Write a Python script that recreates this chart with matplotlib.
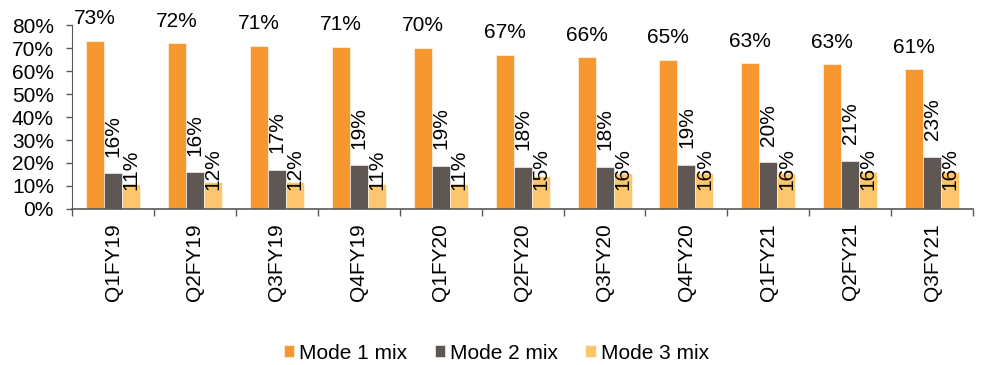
import numpy as np
import matplotlib
matplotlib.use("Agg")
import matplotlib.pyplot as plt

# Donnees
trimestres = ["Q1FY19", "Q2FY19", "Q3FY19", "Q4FY19", "Q1FY20", "Q2FY20",
              "Q3FY20", "Q4FY20", "Q1FY21", "Q2FY21", "Q3FY21"]
mode1 = [73, 72, 71, 71, 70, 67, 66, 65, 63, 63, 61]
mode2 = [16, 16, 17, 19, 19, 18, 18, 19, 20, 21, 23]
mode3 = [11, 12, 12, 11, 11, 15, 16, 16, 16, 16, 16]
# hauteurs des barres
mode1_h = [73.2, 72.0, 71.0, 70.5, 70.2, 67.0, 66.0, 65.0, 63.4, 63.0, 60.8]
mode2_h = [15.5, 16.0, 17.0, 19.0, 18.8, 18.3, 18.2, 19.2, 20.3, 20.8, 22.6]
mode3_h = [10.9, 11.8, 11.8, 10.7, 10.8, 14.5, 15.5, 15.8, 15.8, 16.0, 16.0]

COULEURS = ["#F7972F", "#5E5753", "#FDC66C"]
NOMS = ["Mode 1 mix", "Mode 2 mix", "Mode 3 mix"]

plt.rcParams["font.family"] = ["Liberation Sans", "DejaVu Sans"]

fig = plt.figure(figsize=(9.87, 3.65), dpi=100)
ax = fig.add_axes([0.073, 0.4274, 0.913, 0.5041])

x = np.arange(len(trimestres))
w = 0.22

b1 = ax.bar(x - w, mode1_h, w, color=COULEURS[0], edgecolor="white", linewidth=0.4, label=NOMS[0])
b2 = ax.bar(x, mode2_h, w, color=COULEURS[1], edgecolor="white", linewidth=0.4, label=NOMS[1])
b3 = ax.bar(x + w, mode3_h, w, color=COULEURS[2], edgecolor="white", linewidth=0.4, label=NOMS[2])

# etiquettes
for i in range(len(x)):
    ax.annotate(f"{mode1[i]}%", (x[i] - w, mode1_h[i]), xytext=(0, 9),
                textcoords="offset points", ha="center", va="bottom", fontsize=15)
    ax.annotate(f"{mode2[i]}%", (x[i], mode2_h[i]), xytext=(0, 12),
                textcoords="offset points", ha="center", va="bottom",
                rotation=90, fontsize=15)
    ax.annotate(f"{mode3[i]}%", (x[i] + w, 0), xytext=(0, 13.5),
                textcoords="offset points", ha="center", va="bottom",
                rotation=90, fontsize=15)

ax.set_ylim(0, 80)
ax.set_yticks(range(0, 81, 10))
ax.set_yticklabels([f"{v}%" for v in range(0, 81, 10)], fontsize=15)
ax.set_xlim(-0.5, len(x) - 0.5)

# graduations aux limites des categories, libelles au centre
ax.set_xticks(np.arange(-0.5, len(x), 1.0))
ax.set_xticklabels([])
ax.set_xticks(x, minor=True)
ax.set_xticklabels(trimestres, minor=True, rotation=90, fontsize=15)
ax.tick_params(axis="x", which="minor", length=0, pad=10)
ax.tick_params(axis="x", which="major", length=5, width=1, color="#595959", direction="out")
ax.tick_params(axis="y", length=4, width=1, color="#595959", direction="out", pad=9)

for s in ["top", "right"]:
    ax.spines[s].set_visible(False)
ax.spines["left"].set_color("#595959")
ax.spines["bottom"].set_color("#595959")
ax.spines["bottom"].set_linewidth(1.2)

fig.legend(handles=[b1, b2, b3], labels=NOMS, loc="center", bbox_to_anchor=(0.503, 0.032),
           ncol=3, frameon=False, fontsize=15, handlelength=0.5, handleheight=0.5,
           handletextpad=0.25, columnspacing=1.3, borderpad=0)

fig.savefig("out.png", dpi=100)
